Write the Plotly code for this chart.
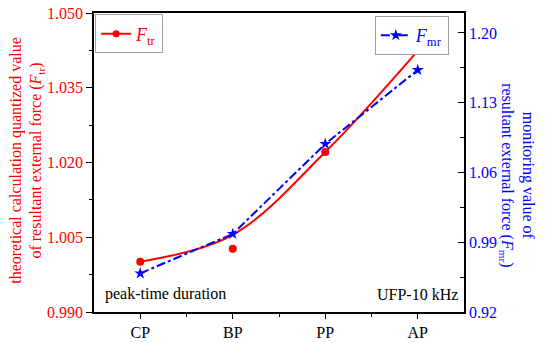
import plotly.graph_objects as go

categories = ["CP", "BP", "PP", "AP"]
ftr_values = [1.0001, 1.0027, 1.0221, 1.0424]
ftr_fit = [1.0001, 1.0055, 1.0221, 1.0424]
fmr_values = [0.9588, 0.9983, 1.0886, 1.1628]

left_ticks = [0.990, 1.005, 1.020, 1.035, 1.050]
right_ticks = [0.92, 0.99, 1.06, 1.13, 1.20]

RED = "#ff0000"
BLUE = "#0000ff"
FONT = "Times New Roman, Liberation Serif, Times, serif"

xpos = list(range(len(categories)))

fig = go.Figure()
fig.add_trace(go.Scatter(x=xpos, y=ftr_fit, mode="lines", line=dict(color=RED, width=2, shape="spline"),
                         showlegend=False, hoverinfo="skip"))
fig.add_trace(go.Scatter(x=xpos, y=ftr_values, mode="markers", marker=dict(color=RED, size=8, symbol="circle"),
                         showlegend=False))
fig.add_trace(go.Scatter(x=[None], y=[None], mode="lines+markers", name="<i>F</i><sub>tr</sub>",
                         line=dict(color=RED, width=2), marker=dict(color=RED, size=7),
                         legend="legend"))
fig.add_trace(go.Scatter(x=xpos, y=fmr_values, mode="lines+markers", name="<i>F</i><sub>mr</sub>",
                         line=dict(color=BLUE, width=2, dash="dashdot"),
                         marker=dict(color=BLUE, size=9, symbol="star"),
                         yaxis="y2", legend="legend2"))

fig.update_layout(
    width=550, height=343,
    margin=dict(l=94, r=86, t=13, b=31, autoexpand=False),
    paper_bgcolor="white", plot_bgcolor="white",
    font=dict(family=FONT, size=16, color="black"),
    xaxis=dict(range=[-0.5, 3.5], tickmode="array", tickvals=xpos, ticktext=categories, automargin=False,
               showline=True, linecolor="black", linewidth=1.5, mirror=True,
               ticks="outside", ticklen=5, tickwidth=1, tickcolor="black",
               minor=dict(tickmode="array", tickvals=[0.5, 1.5, 2.5], ticks="outside", ticklen=3, tickcolor="black"),
               showgrid=False, zeroline=False, tickfont=dict(size=16, color="black", family=FONT)),
    yaxis=dict(range=[0.990, 1.050], tickmode="array", tickvals=left_ticks, tickformat=".3f", automargin=False,
               showline=True, linecolor="black", linewidth=1.5, mirror=False, ticklabeloverflow="allow",
               ticks="outside", ticklen=6, tickwidth=1, tickcolor="black",
               minor=dict(tickmode="array", tickvals=[0.9975, 1.0125, 1.0275, 1.0425], ticks="outside",
                          ticklen=3, tickcolor="black"),
               showgrid=False, zeroline=False, tickfont=dict(size=16, color=RED, family=FONT)),
    yaxis2=dict(range=[0.92, 1.22], overlaying="y", side="right", tickmode="array", tickvals=right_ticks,
                tickformat=".2f", automargin=False, showline=True, linecolor="black", linewidth=1.5,
                ticks="inside", ticklen=6, tickwidth=1, tickcolor="black",
                minor=dict(tickmode="array", tickvals=[0.955, 1.025, 1.095, 1.165], ticks="inside",
                           ticklen=4, tickcolor="black"),
                showgrid=False, zeroline=False, tickfont=dict(size=16, color=BLUE, family=FONT)),
    legend=dict(x=0.003, y=0.995, xanchor="left", yanchor="top", bgcolor="white",
                bordercolor="#a0a0a0", borderwidth=1, font=dict(size=18, color=RED, family=FONT),
                itemwidth=30, tracegroupgap=0),
    legend2=dict(x=0.959, y=0.99, xanchor="right", yanchor="top", bgcolor="white",
                 bordercolor="#a0a0a0", borderwidth=1, font=dict(size=18, color=BLUE, family=FONT),
                 itemwidth=30),
    annotations=[
        dict(text="theoretical calculation quantized value<br>of resultant external force (<i>F</i><sub>tr</sub>)",
             xref="paper", yref="paper", x=-0.182, y=0.508, xanchor="center", yanchor="middle",
             textangle=-90, showarrow=False, font=dict(size=16, color=RED, family=FONT)),
        dict(text="monitoring value of<br>resultant external force (<i>F</i><sub>mr</sub>)",
             xref="paper", yref="paper", x=1.143, y=0.458, xanchor="center", yanchor="middle",
             textangle=90, showarrow=False, font=dict(size=16, color=BLUE, family=FONT)),
        dict(text="peak-time duration", xref="paper", yref="paper", x=0.024, y=0.06,
             xanchor="left", yanchor="middle", showarrow=False, font=dict(size=16, color="black", family=FONT)),
        dict(text="UFP-10 kHz", xref="paper", yref="paper", x=0.989, y=0.06,
             xanchor="right", yanchor="middle", showarrow=False, font=dict(size=16, color="black", family=FONT)),
    ],
)

fig.write_html("out.html", config={"displayModeBar": False},
               post_script="document.body.style.margin='0';document.body.style.overflow='hidden';")
